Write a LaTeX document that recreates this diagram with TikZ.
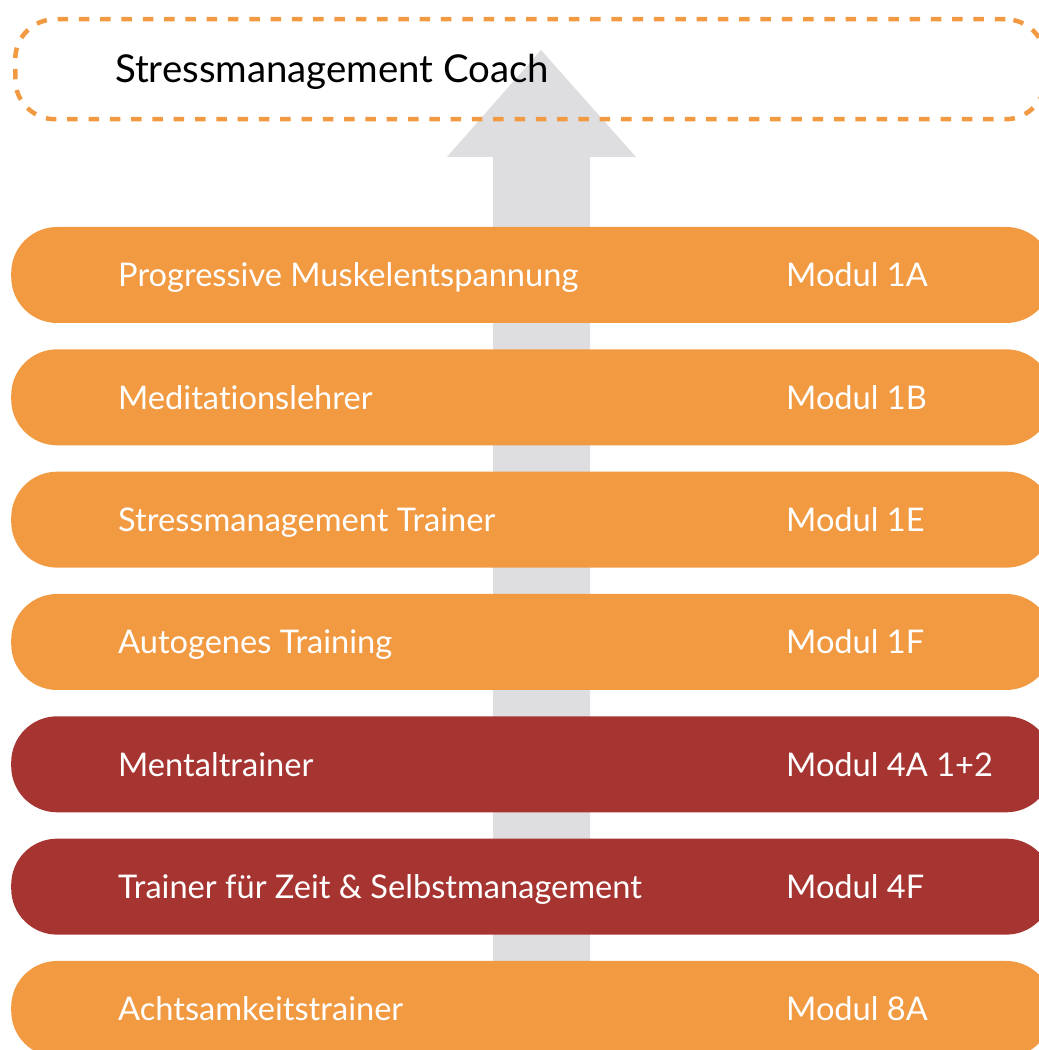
\documentclass[tikz,border=0pt]{standalone}
\usepackage{fontspec}
\setmainfont{Lato}[Ligatures={NoCommon,NoContextual}]
\definecolor{orangebar}{HTML}{F19A42}
\definecolor{redbar}{HTML}{A63532}
\definecolor{arrowgray}{HTML}{DEDEE0}
\begin{document}
\begin{tikzpicture}[x=1pt,y=1pt,
  barbox/.style={rounded corners=46pt, minimum width=1041pt, minimum height=96pt, inner sep=0pt, anchor=west},
  bartext/.style={text=white, font=\fontsize{32.6}{38}\selectfont, anchor=base west, inner sep=0pt},
  coachbox/.style={draw=orangebar, line width=4.5pt, dash pattern=on 10.5pt off 10.8pt, rounded corners=40pt},
  coachtext/.style={text=black, font=\fontsize{38.4}{46}\selectfont, anchor=base west, inner sep=0pt}]
\useasboundingbox (0,0) rectangle (1039,1050);
\clip (0,0) rectangle (1039,1050);
% arrow
\fill[arrowgray] (493,60) -- (493,893) -- (447,893) -- (541,1000) -- (636,893) -- (590,893) -- (590,60) -- cycle;
% dashed box
\node[coachbox, minimum width=1030pt, minimum height=100pt, anchor=north west, inner sep=0pt] (coach) at (13,1033) {};
\node[coachtext] (coachlbl) at (115,967) {Stressmanagement Coach};
% bars
\foreach \i/\col/\name/\lbl/\mod in {
  0/orangebar/b1/{Progressive Muskelentspannung}/{Modul 1A},
  1/orangebar/b2/{Meditationslehrer}/{Modul 1B},
  2/orangebar/b3/{Stressmanagement Trainer}/{Modul 1E},
  3/orangebar/b4/{Autogenes Training}/{Modul 1F},
  4/redbar/b5/{Mentaltrainer}/{Modul 4A 1+2},
  5/redbar/b6/{Trainer für Zeit \& Selbstmanagement}/{Modul 4F},
  6/orangebar/b7/{Achtsamkeitstrainer}/{Modul 8A}}
{
  \node[barbox, fill=\col] (\name) at (11,{1050-275-122.33*\i}) {};
  \node[bartext] (\name l) at (118,{1050-287-122.33*\i}) {\lbl};
  \node[bartext] (\name m) at (786,{1050-287-122.33*\i}) {\mod};
}
\end{tikzpicture}
\end{document}
